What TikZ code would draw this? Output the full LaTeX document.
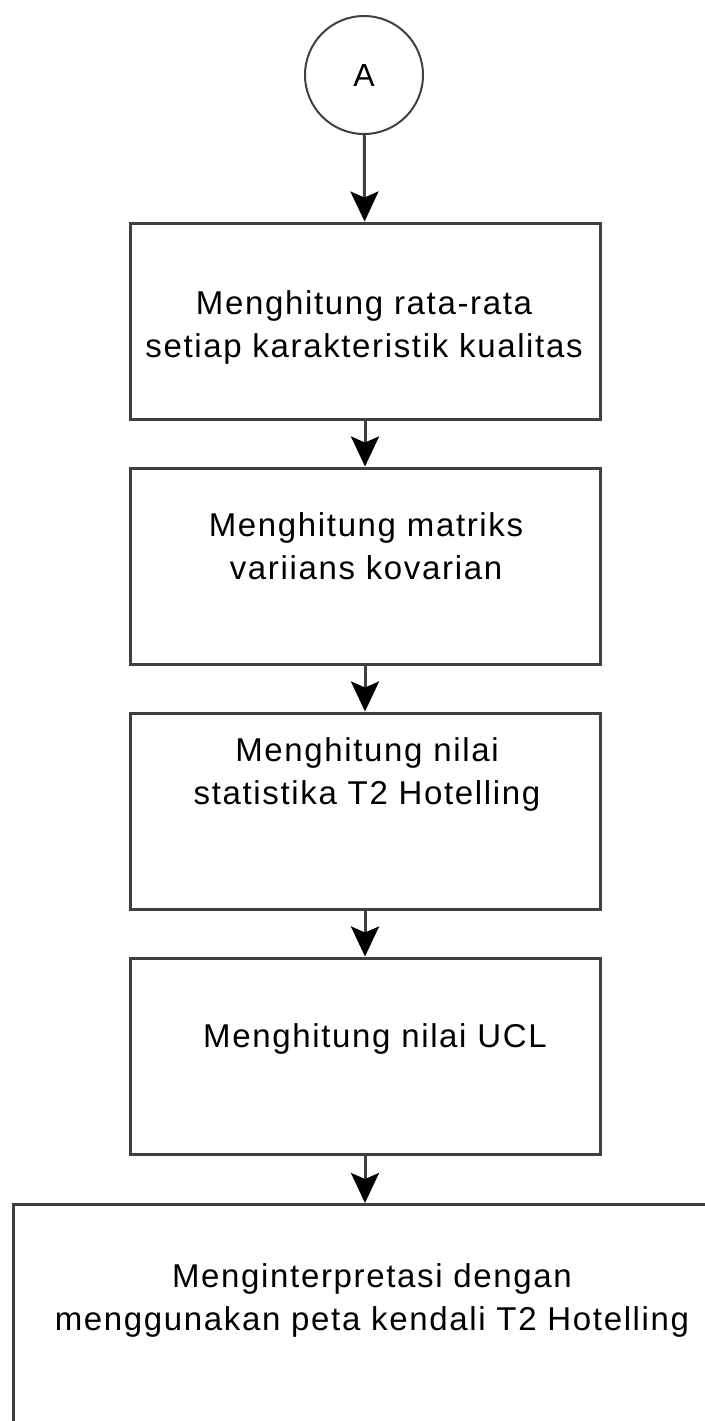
\documentclass[tikz,border=0pt]{standalone}
\usepackage{fontspec}
\setmainfont{Liberation Sans}[LetterSpace=5]
\usepackage{xcolor}
\usetikzlibrary{arrows.meta, positioning}
\definecolor{linegray}{HTML}{404040}

\begin{document}
\begin{tikzpicture}[x=0.5pt, y=-0.5pt,
    proc/.style={draw=linegray, line width=1.5pt, rectangle, minimum width=235pt, minimum height=98pt, inner sep=0pt},
    txt/.style={align=center, anchor=base, inner sep=0pt, font=\fontsize{16.5}{21.5}\selectfont},
    flow/.style={draw=linegray, line width=1.5pt, -{Stealth[length=15pt, width=14pt, inset=3pt, color=black]}}]
    \useasboundingbox (0,0) rectangle (705,1421);
    \clip (0,0) rectangle (705,1421);

    % connector A and the steps
    \node[draw=linegray, line width=1pt, circle, minimum size=59pt, inner sep=0pt, font=\fontsize{16}{16}\selectfont] (start) at (364,75) {A};
    \node[proc] (mean) at (365,321) {};
    \node[proc] (cov) at (365,566) {};
    \node[proc] (stat) at (365,811) {};
    \node[proc] (ucl) at (365,1056) {};
    \node[proc, anchor=north west, minimum width=400pt, minimum height=150pt] (interp) at (12,1203) {};

    % base = last line
    \node[txt] (mean-t) at (364,357) {Menghitung rata-rata\\setiap karakteristik kualitas};
    \node[txt] (cov-t) at (366,579) {Menghitung matriks\\variians kovarian};
    \node[txt] (stat-t) at (367,804) {Menghitung nilai\\statistika T2 Hotelling};
    \node[txt] (ucl-t) at (375,1047) {Menghitung nilai UCL};
    \node[txt] (interp-t) at (372,1330) {Menginterpretasi dengan\\menggunakan peta kendali T2 Hotelling};

    \draw[flow] (start) -- (mean);
    \draw[flow] (mean) -- (cov);
    \draw[flow] (cov) -- (stat);
    \draw[flow] (stat) -- (ucl);
    \draw[flow] (ucl.south) -- (ucl.south |- interp.north);
\end{tikzpicture}
\end{document}
